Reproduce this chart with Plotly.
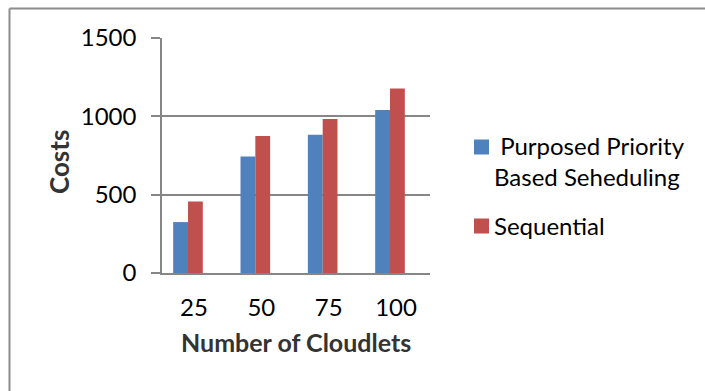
import plotly.graph_objects as go

# Cost comparison of two scheduling strategies by number of cloudlets
cloudlets = ["25", "50", "75", "100"]
priority_costs = [325, 744, 883, 1040]
sequential_costs = [457, 874, 983, 1178]
series_names = [" Purposed Priority<br>Based Seheduling", "Sequential"]
series_colors = ["#4F81BD", "#C0504D"]
y_ticks = [0, 500, 1000, 1500]

FONT = "Lato"
GRID = "#868686"

W, H = 705, 391
L, R, T, B = 162, 430, 38, 273  # plot area in pixels


def px_x(x):
    return (x - L) / (R - L)


def px_y(y):
    return (B - y) / (B - T)


fig = go.Figure()
for vals, name, color in zip([priority_costs, sequential_costs], series_names, series_colors):
    fig.add_trace(go.Bar(x=cloudlets, y=vals, name=name, marker=dict(color=color, line=dict(width=0)),
                         showlegend=False))

# Legend drawn as swatches plus labels to the right of the plot
legend_rows = [(147, 161), (226, 225)]  # (swatch centre y, label centre y) in pixels
for (sy, ty), name, color in zip(legend_rows, series_names, series_colors):
    fig.add_shape(type="rect", xref="paper", yref="paper",
                  x0=px_x(474), x1=px_x(489), y0=px_y(sy + 7.5), y1=px_y(sy - 7.5),
                  fillcolor=color, line=dict(width=0))
    fig.add_annotation(text=name, xref="paper", yref="paper", x=px_x(492), y=px_y(ty),
                       xanchor="left", yanchor="middle", align="left", showarrow=False,
                       font=dict(family=FONT, size=24, color="#000000"))

# Axis titles
fig.add_annotation(text="<b>Number of Cloudlets</b>", xref="paper", yref="paper",
                   x=px_x(296), y=px_y(342), xanchor="center", yanchor="middle", showarrow=False,
                   font=dict(family=FONT, size=25, color="#333333"))
fig.add_annotation(text="<b>Costs</b>", xref="paper", yref="paper", textangle=-90,
                   x=px_x(59), y=px_y(162), xanchor="center", yanchor="middle", showarrow=False,
                   font=dict(family=FONT, size=26, color="#333333"))

# Outer chart frame: only its top and left edges fall inside the canvas
frame = dict(color="#8C8C8C", width=2)
fig.add_shape(type="line", xref="paper", yref="paper",
              x0=px_x(9.5), x1=px_x(W + 20), y0=px_y(8.5), y1=px_y(8.5), line=frame)
fig.add_shape(type="line", xref="paper", yref="paper",
              x0=px_x(9.5), x1=px_x(9.5), y0=px_y(8.5), y1=px_y(H + 20), line=frame)

fig.update_layout(
    width=W, height=H,
    margin=dict(l=L, r=W - R, t=T, b=H - B),
    paper_bgcolor="white", plot_bgcolor="white",
    barmode="group", bargap=0.56, bargroupgap=0,
    font=dict(family=FONT, size=24, color="#000000"),
    xaxis=dict(type="category", range=[-0.386, 3.594], showgrid=False,
               showline=True, linecolor=GRID, linewidth=1.5, ticks="",
               ticklabelshift=6, ticklabelstandoff=12,
               tickfont=dict(family=FONT, size=24, color="#000000")),
    yaxis=dict(range=[0, 1500], tickvals=y_ticks, ticktext=[str(v) for v in y_ticks],
               showgrid=True, gridcolor=GRID, gridwidth=1.5,
               showline=True, linecolor=GRID, linewidth=1.5,
               ticks="outside", ticklen=9, tickcolor=GRID, tickwidth=1.5,
               ticklabelstandoff=10, zeroline=False,
               tickfont=dict(family=FONT, size=24, color="#000000")),
)

fig.write_html("out.html")
